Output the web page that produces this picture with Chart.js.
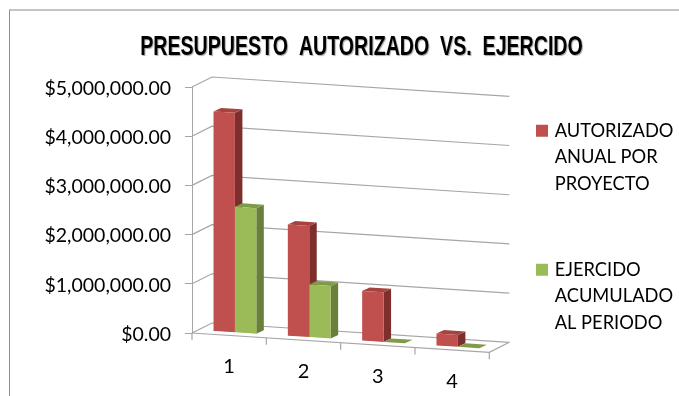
<!DOCTYPE html>
<html>
<head>
<meta charset="utf-8">
<style>
html, body { margin: 0; padding: 0; background: #fff; }
#frame { position: absolute; left: 9px; top: 9px; right: 0; bottom: 0; border-left: 1px solid #8f8f8f; border-top: 2px solid #c4c4c4; }
canvas { position: absolute; left: 0; top: 0; }
</style>
</head>
<body>
<div id="frame"></div>
<canvas id="budget-chart" width="679" height="396"></canvas>
<script src="https://cdn.jsdelivr.net/npm/chart.js@4/dist/chart.umd.min.js"></script>
<script>
var categories = ['1', '2', '3', '4'];
var autorizado = [4470000, 2270000, 1020000, 250000];
var ejercido = [2560000, 1080000, 10000, 10000];
var autorizadoLabel = ['AUTORIZADO', 'ANUAL POR', 'PROYECTO'];
var ejercidoLabel = ['EJERCIDO', 'ACUMULADO', 'AL PERIODO'];
var chartTitle = 'PRESUPUESTO  AUTORIZADO  VS.  EJERCIDO';

var textFont = 'Lato, sans-serif';
var lineGrey = '#a6a6a6';
var slope = 0.065;      // the floor runs downhill to the right
var depthX = 20, depthY = -10;      // floor / wall depth
var barDepthX = 7.5, barDepthY = -3.5;
var sideColors = ['#7e2f2d', '#68803a'];
var topColors = ['#a5433f', '#7f9a48'];

function frontY(x, y, scale) {
    return y + slope * (x - scale.left);
}

// walls, floor and the category axis, all hung off the chart's own scales
var wallsPlugin = {
    id: 'walls',
    afterLayout: function (chart) {
        chart.legend.left = 479;
        chart.legend.right = 679;
        chart.legend.top = 62;
        chart.legend.bottom = 396;
        var title = chart.titleBlock;
        title.left = 44;
        title.right = 679;
        // the original title is a tall condensed bold with a soft shadow
        if (!title.squeezed) {
            var draw = title.draw;
            title.squeezed = true;
            title.draw = function () {
                var ctx = chart.ctx, cx = (title.left + title.right) / 2;
                ctx.save();
                ctx.translate(cx, 0);
                ctx.scale(0.7, 1);
                ctx.translate(-cx, 0);
                ctx.shadowColor = 'rgba(0,0,0,0.35)';
                ctx.shadowOffsetX = 1;
                ctx.shadowOffsetY = 1;
                ctx.shadowBlur = 1;
                draw.call(title);
                ctx.restore();
            };
        }
    },
    beforeDatasetsDraw: function (chart) {
        var ctx = chart.ctx, xs = chart.scales.x, ys = chart.scales.y;
        var base = ys.getPixelForValue(0);
        ctx.save();
        ctx.strokeStyle = lineGrey;
        ctx.lineWidth = 1.2;
        ys.ticks.forEach(function (t) {
            var y = ys.getPixelForValue(t.value);
            ctx.beginPath();
            ctx.moveTo(xs.left, y);
            ctx.lineTo(xs.left + depthX, y + depthY);
            ctx.lineTo(xs.right + depthX, frontY(xs.right, y, xs) + depthY);
            ctx.stroke();
        });
        // floor
        ctx.beginPath();
        ctx.moveTo(xs.left, base);
        ctx.lineTo(xs.right, frontY(xs.right, base, xs));
        ctx.lineTo(xs.right + depthX, frontY(xs.right, base, xs) + depthY);
        ctx.stroke();
        var step = (xs.right - xs.left) / categories.length;
        for (var i = 0; i <= categories.length; i++) {
            var tx = xs.left + i * step;
            var ty = frontY(tx, base, xs);
            ctx.beginPath();
            ctx.moveTo(tx, ty);
            ctx.lineTo(tx, ty + 7);
            ctx.stroke();
        }
        ctx.fillStyle = '#000';
        ctx.font = '20px ' + textFont;
        ctx.textAlign = 'center';
        ctx.textBaseline = 'middle';
        categories.forEach(function (c, i) {
            var cx = xs.getPixelForTick(i);
            ctx.fillText(c, cx, frontY(cx, base, xs) + 31.5);
        });
        ctx.restore();

        // bars are sheared along the floor and pushed back to mid depth
        ctx.save();
        ctx.transform(1, slope, 0, 1, 0, -slope * xs.left);
        ctx.translate(5.75, -3);
        [0, 1].forEach(function (d) {
            chart.getDatasetMeta(d).data.forEach(function (bar) {
                var left = bar.x - bar.width / 2, right = bar.x + bar.width / 2;
                var dy = barDepthY - slope * barDepthX;
                ctx.fillStyle = sideColors[d];
                ctx.beginPath();
                ctx.moveTo(right, bar.y);
                ctx.lineTo(right + barDepthX, bar.y + dy);
                ctx.lineTo(right + barDepthX, bar.base + dy);
                ctx.lineTo(right, bar.base);
                ctx.closePath();
                ctx.fill();
                ctx.fillStyle = topColors[d];
                ctx.beginPath();
                ctx.moveTo(left, bar.y);
                ctx.lineTo(left + barDepthX, bar.y + dy);
                ctx.lineTo(right + barDepthX, bar.y + dy);
                ctx.lineTo(right, bar.y);
                ctx.closePath();
                ctx.fill();
            });
        });
    },
    afterDatasetsDraw: function (chart) {
        chart.ctx.restore();
    }
};

var myChart = new Chart(document.getElementById('budget-chart').getContext('2d'), {
    type: 'bar',
    plugins: [wallsPlugin],
    data: {
        labels: categories,
        datasets: [
            { label: autorizadoLabel, data: autorizado, backgroundColor: '#c0504d' },
            { label: ejercidoLabel, data: ejercido, backgroundColor: '#9bbb59' }
        ]
    },
    options: {
        responsive: false,
        animation: false,
        layout: { padding: { left: 0, right: 189.7, top: 0, bottom: 63 } },
        datasets: { bar: { categoryPercentage: 0.576, barPercentage: 1 } },
        scales: {
            x: { display: false },
            y: {
                min: 0,
                max: 5000000,
                afterFit: function (scale) { scale.width = 192; },
                border: { color: lineGrey },
                grid: { drawOnChartArea: false, color: lineGrey, tickLength: 7 },
                ticks: {
                    stepSize: 1000000,
                    padding: 14,
                    labelOffset: 1.5,
                    color: '#000',
                    font: { family: textFont, size: 19.5 },
                    callback: function (v) {
                        return '$' + v.toLocaleString('en-US', { minimumFractionDigits: 2 });
                    }
                }
            }
        },
        plugins: {
            tooltip: { enabled: false },
            title: {
                display: true,
                text: chartTitle,
                color: '#000',
                font: { family: '"Liberation Sans", sans-serif', size: 28, weight: 'bold' },
                padding: { top: 30, bottom: 23.4 }
            },
            legend: {
                position: 'chartArea',
                align: 'start',
                labels: {
                    boxWidth: 7,
                    boxHeight: 7,
                    padding: 59.5,
                    color: '#000',
                    font: { family: textFont, size: 18.3, lineHeight: 26.5 / 18.3 },
                    generateLabels: function (chart) {
                        return chart.data.datasets.map(function (ds, i) {
                            return {
                                text: ds.label,
                                fillStyle: ds.backgroundColor,
                                strokeStyle: ds.backgroundColor,
                                lineWidth: 5,
                                fontColor: '#000',
                                datasetIndex: i
                            };
                        });
                    }
                }
            }
        }
    }
});
</script>
</body>
</html>
